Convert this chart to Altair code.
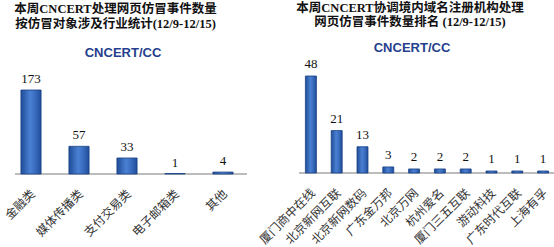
import altair as alt
import pandas as pd

# ---- data ----
L_CATS = ["金融类", "媒体传播类", "支付交易类", "电子邮箱类", "其他"]
L_VALS = [173, 57, 33, 1, 4]
R_CATS = ["厦门商中在线", "北京新网互联", "北京新网数码", "广东金万邦", "北京万网",
          "杭州爱名", "厦门三五互联", "游动科技", "广东时代互联", "上海有孚"]
R_VALS = [48, 21, 13, 3, 2, 2, 2, 1, 1, 1]
L_TITLE = ["本周CNCERT处理网页仿冒事件数量", "按仿冒对象涉及行业统计(12/9-12/15)"]
R_TITLE = ["本周CNCERT协调境内域名注册机构处理", "网页仿冒事件数量排名 (12/9-12/15)"]
LOGO = "CNCERT/CC"

ldf = pd.DataFrame({"cat": L_CATS, "val": L_VALS})
rdf = pd.DataFrame({"cat": R_CATS, "val": R_VALS})
one = pd.DataFrame({"k": [0]})

TITLE_FONT = "Liberation Serif, Noto Sans CJK SC"
NUM_FONT = "Liberation Serif"
LAB_FONT = "Noto Sans CJK SC"

grad = alt.Gradient(
    gradient="linear", x1=0, x2=1, y1=0, y2=0,
    stops=[alt.GradientStop(color="#1f4c96", offset=0),
           alt.GradientStop(color="#4a80d2", offset=0.45),
           alt.GradientStop(color="#3a6dc0", offset=0.7),
           alt.GradientStop(color="#1f4c96", offset=1)])


def panel(df, cats, xrange, yrange, ymax, vdy, pad_inner, rule_x):
    xs = alt.Scale(domain=cats, range=xrange, paddingInner=pad_inner,
                   paddingOuter=pad_inner / 2)
    ys = alt.Scale(domain=[0, ymax], range=yrange, nice=False)
    x = alt.X("cat:N", scale=xs, axis=None, sort=None)
    y = alt.Y("val:Q", scale=ys, axis=None)
    bars = alt.Chart(df).mark_bar(color=grad, stroke="#1b4386",
                                  strokeWidth=0.8).encode(x=x, y=y)
    vals = alt.Chart(df).mark_text(font=NUM_FONT, fontSize=13, dy=vdy,
                                   baseline="alphabetic", color="#111").encode(
        x=x, y=y, text="val:Q")
    labs = alt.Chart(df).mark_text(font=LAB_FONT, fontSize=12, angle=315,
                                   align="right", baseline="middle",
                                   color="#333", dx=-11.3, dy=14.1).encode(
        x=x, y=alt.Y(datum=0, scale=ys, axis=None), text="cat:N")
    rule = alt.Chart(one).mark_rule(color="#a6a6a6", strokeWidth=1.6).encode(
        x=alt.value(rule_x[0]), x2=alt.value(rule_x[1]),
        y=alt.Y(datum=0, scale=ys, axis=None))
    return alt.layer(rule, bars, vals, labs)


left = panel(ldf, L_CATS, [7, 247], [174, 90], 173, -7, 0.58, (15, 247))
right = panel(rdf, R_CATS, [298, 556], [173, 76], 48, -8, 0.574, (299, 554))


def title(lines, cx, y):
    return alt.Chart(one).mark_text(font=TITLE_FONT, fontSize=12.5,
                                    fontWeight="bold", lineHeight=14.5,
                                    baseline="middle", color="#111").encode(
        x=alt.value(cx), y=alt.value(y), text=alt.value(lines))


def logo(cx, y):
    return alt.Chart(one).mark_text(font="Liberation Sans", fontSize=13,
                                    fontWeight="bold", color="#263f8e",
                                    baseline="middle").encode(
        x=alt.value(cx), y=alt.value(y), text=alt.value(LOGO))


chart = alt.layer(
    left, right,
    title(L_TITLE, 115.5, 9), title(R_TITLE, 410, 7.5),
    logo(123, 52.5), logo(412, 48),
).resolve_scale(x="independent", y="independent").properties(
    width=554, height=247, autosize="none", padding=0,
    background="white").configure_view(stroke=None)

chart.save("out.html", embed_options={"renderer": "svg", "actions": False})
